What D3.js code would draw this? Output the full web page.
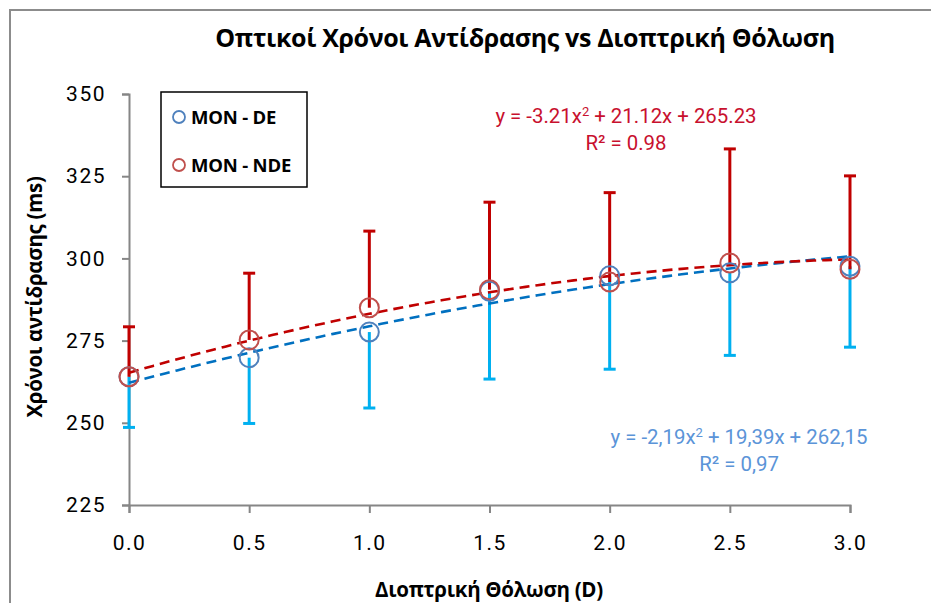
<!DOCTYPE html>
<html>
<head>
<meta charset="utf-8">
<script src="https://cdn.jsdelivr.net/npm/d3@7"></script>
<style>
  html, body { margin: 0; padding: 0; background: #fff; }
  svg { display: block; }
</style>
</head>
<body>
<svg id="chart" width="931" height="603"></svg>
<script>
// Blur levels (dioptres)
const blur = [0.0, 0.5, 1.0, 1.5, 2.0, 2.5, 3.0];

// Mean reaction times (ms)
const deMeans  = [264.0, 269.8, 277.6, 290.0, 294.7, 295.6, 297.6];
const ndeMeans = [264.0, 275.2, 285.0, 290.5, 292.8, 298.6, 296.7];

// Error bar lengths (DE shown below the mean, NDE above)
const deErr  = [15.4, 20.0, 23.1, 26.7, 28.4, 25.1, 24.6];
const ndeErr = [15.2, 20.3, 23.3, 26.6, 27.2, 34.7, 28.4];

// Quadratic trendline coefficients [a, b, c] for y = a x² + b x + c
const deFit  = [-2.19, 19.39, 262.15];
const ndeFit = [-3.21, 21.12, 265.23];

// Axis ticks
const yTicks = [225, 250, 275, 300, 325, 350];
const xTicks = [0.0, 0.5, 1.0, 1.5, 2.0, 2.5, 3.0];

const svg = d3.select("#chart");

const x = d3.scaleLinear().domain([0, 3]).range([129, 850]);
const y = d3.scaleLinear().domain([225, 350]).range([505, 94]);

const numFont = "Roboto, 'Liberation Sans', sans-serif";
const boldFont = "'Open Sans', 'Noto Sans', sans-serif";

// Outer frame
svg.append("path")
  .attr("d", "M10,620 L10,10 L940,10")
  .attr("fill", "none")
  .attr("stroke", "#8c8c8c")
  .attr("stroke-width", 2);

// Title
svg.append("text")
  .attr("x", 525).attr("y", 47)
  .attr("text-anchor", "middle")
  .attr("font-family", boldFont)
  .attr("font-weight", "bold")
  .attr("font-size", 25)
  .attr("letter-spacing", -0.35)
  .attr("fill", "#000")
  .text("Οπτικοί Χρόνοι Αντίδρασης vs Διοπτρική Θόλωση");

// Y axis
const yAxis = svg.append("g")
  .attr("transform", "translate(129,0)")
  .call(d3.axisLeft(y).tickValues(yTicks).tickSize(7).tickPadding(16).tickFormat(d3.format("d")));

// X axis
const xAxis = svg.append("g")
  .attr("transform", "translate(0,505)")
  .call(d3.axisBottom(x).tickValues(xTicks).tickSize(8).tickPadding(22).tickFormat(d3.format(".1f")));

[yAxis, xAxis].forEach(g => {
  g.select(".domain").attr("stroke", "#868686").attr("stroke-width", 2);
  g.selectAll(".tick line").attr("stroke", "#868686").attr("stroke-width", 2);
  g.selectAll(".tick text")
    .attr("font-family", numFont)
    .attr("font-size", 21)
    .attr("letter-spacing", 1.5)
    .attr("fill", "#000");
});

// Axis titles
svg.append("text")
  .attr("transform", "translate(42,297) rotate(-90)")
  .attr("text-anchor", "middle")
  .attr("font-family", boldFont)
  .attr("font-weight", "bold")
  .attr("font-size", 20.5)
  .attr("letter-spacing", -0.3)
  .text("Χρόνοι αντίδρασης (ms)");

svg.append("text")
  .attr("x", 489).attr("y", 597)
  .attr("text-anchor", "middle")
  .attr("font-family", boldFont)
  .attr("font-weight", "bold")
  .attr("font-size", 20.5)
  .attr("letter-spacing", -0.3)
  .text("Διοπτρική Θόλωση (D)");

// Error bars
function errorBars(means, errs, dir, color) {
  const g = svg.append("g");
  blur.forEach((b, i) => {
    const end = means[i] + dir * errs[i];
    g.append("line")
      .attr("x1", x(b)).attr("x2", x(b))
      .attr("y1", y(means[i])).attr("y2", y(end))
      .attr("stroke", color).attr("stroke-width", 3);
    g.append("line")
      .attr("x1", x(b) - 6).attr("x2", x(b) + 6)
      .attr("y1", y(end)).attr("y2", y(end))
      .attr("stroke", color).attr("stroke-width", 3);
  });
}
errorBars(deMeans, deErr, -1, "#00B0F0");
errorBars(ndeMeans, ndeErr, 1, "#C00000");

// Trendlines
const samples = d3.range(0, 3.0001, 0.05);
function fitLine(coef, color) {
  const line = d3.line()
    .x(d => x(d))
    .y(d => y(coef[0] * d * d + coef[1] * d + coef[2]));
  svg.append("path")
    .datum(samples)
    .attr("d", line)
    .attr("fill", "none")
    .attr("stroke", color)
    .attr("stroke-width", 2.6)
    .attr("stroke-dasharray", "10,6");
}
fitLine(deFit, "#0070C0");
fitLine(ndeFit, "#C00000");

// Markers
function markers(means, color) {
  svg.append("g").selectAll("circle")
    .data(blur)
    .join("circle")
    .attr("cx", d => x(d))
    .attr("cy", (d, i) => y(means[i]))
    .attr("r", 9.5)
    .attr("fill", "none")
    .attr("stroke", color)
    .attr("stroke-width", 2);
}
markers(deMeans, "#4F81BD");
markers(ndeMeans, "#C0504D");

// Trendline equations
function eqn(cx, cy, parts, r2, color) {
  const t = svg.append("text")
    .attr("x", cx).attr("y", cy)
    .attr("text-anchor", "middle")
    .attr("font-family", numFont)
    .attr("font-size", 20.4)
    .attr("fill", color);
  t.append("tspan").text(parts[0]);
  t.append("tspan").attr("dy", -7).attr("font-size", 13).text("2");
  t.append("tspan").attr("dy", 7).text(parts[1]);
  svg.append("text")
    .attr("x", cx).attr("y", cy + 27)
    .attr("text-anchor", "middle")
    .attr("font-family", numFont)
    .attr("font-size", 20.4)
    .attr("fill", color)
    .text(r2);
}
const fmtDot = v => v.toFixed(2);
const fmtComma = v => v.toFixed(2).replace(".", ",");
eqn(626, 123,
  ["y = " + fmtDot(ndeFit[0]) + "x", " + " + fmtDot(ndeFit[1]) + "x + " + fmtDot(ndeFit[2])],
  "R² = 0.98", "#C8102E");
eqn(739, 444,
  ["y = " + fmtComma(deFit[0]) + "x", " + " + fmtComma(deFit[1]) + "x + " + fmtComma(deFit[2])],
  "R² = 0,97", "#5B94D8");

// Legend
const legend = svg.append("g");
legend.append("rect")
  .attr("x", 161).attr("y", 92)
  .attr("width", 146).attr("height", 95)
  .attr("fill", "#fff")
  .attr("stroke", "#000")
  .attr("stroke-width", 1.5);
const legendItems = [
  { label: "MON - DE", color: "#4F81BD" },
  { label: "MON - NDE", color: "#C0504D" }
];
legendItems.forEach((d, i) => {
  const cy = 117 + i * 48;
  legend.append("circle")
    .attr("cx", 179).attr("cy", cy).attr("r", 6)
    .attr("fill", "none").attr("stroke", d.color).attr("stroke-width", 1.8);
  legend.append("text")
    .attr("x", 191).attr("y", cy + 6.5)
    .attr("font-family", boldFont)
    .attr("font-weight", "bold")
    .attr("font-size", 18.5)
    .attr("letter-spacing", -0.2)
    .text(d.label);
});
</script>
</body>
</html>
